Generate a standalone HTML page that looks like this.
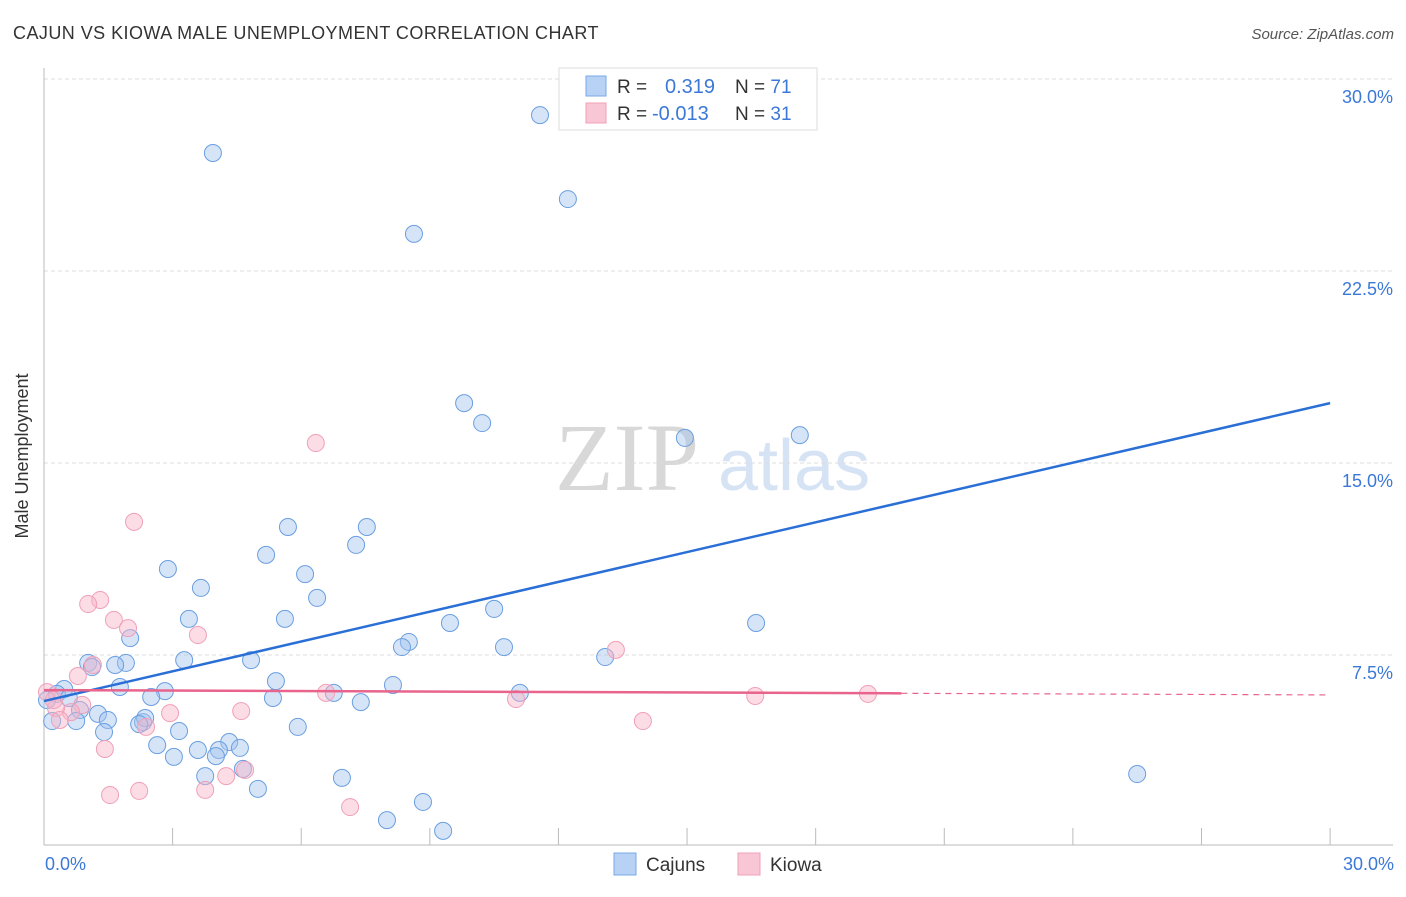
<!DOCTYPE html>
<html><head><meta charset="utf-8"><style>
body{margin:0;background:#fff;width:1406px;height:892px;overflow:hidden;font-family:"Liberation Sans",sans-serif}
</style></head><body>
<svg width="1406" height="892" xmlns="http://www.w3.org/2000/svg">
<text x="13" y="39" font-size="18" letter-spacing="0.45" fill="#333">CAJUN VS KIOWA MALE UNEMPLOYMENT CORRELATION CHART</text>
<text x="1394" y="39" font-size="15" fill="#555" font-style="italic" text-anchor="end">Source: ZipAtlas.com</text>
<text x="555" y="490" font-size="96" fill="#d8d8d8" font-family="Liberation Serif,serif">ZIP</text>
<text x="718" y="490" font-size="72" fill="#d6e3f5">atlas</text>
<g id="grid"></g>
<line x1="44" y1="68" x2="44" y2="845" stroke="#bbb"/>
<line x1="44" y1="845" x2="1393" y2="845" stroke="#bbb"/>
<g id="xticks"></g>
<text x="28" y="456" font-size="18" fill="#333" text-anchor="middle" transform="rotate(-90 28 456)">Male Unemployment</text>
<text x="45" y="870" font-size="18" fill="#3b78d8">0.0%</text>
<text x="1394" y="870" font-size="18" fill="#3b78d8" text-anchor="end">30.0%</text>
<g id="pts"></g>
<g id="lines"></g>
<g>
<rect x="559" y="68" width="258" height="62" fill="#fff" stroke="#ddd"/>
<rect x="586" y="76" width="20" height="20" fill="#b8d2f5" stroke="#7aa8e8"/>
<rect x="586" y="103" width="20" height="20" fill="#f9c6d5" stroke="#f0a0b8"/>
<text x="617" y="93" font-size="19" fill="#333">R =</text>
<text x="665" y="93" font-size="20" fill="#3b78d8">0.319</text>
<text x="735" y="93" font-size="19" fill="#333">N = <tspan fill="#3b78d8">71</tspan></text>
<text x="617" y="120" font-size="19" fill="#333">R =</text>
<text x="652" y="120" font-size="20" fill="#3b78d8">-0.013</text>
<text x="735" y="120" font-size="19" fill="#333">N = <tspan fill="#3b78d8">31</tspan></text>
</g>
<g>
<rect x="614" y="853" width="22" height="22" fill="#b8d2f5" stroke="#7aa8e8"/>
<text x="646" y="871" font-size="19" fill="#333">Cajuns</text>
<rect x="738" y="853" width="22" height="22" fill="#f9c6d5" stroke="#f0a0b8"/>
<text x="770" y="871" font-size="19" fill="#333">Kiowa</text>
</g>
</svg>
<script>
const yTicks=[7.5,15,22.5,30];
const yTickLabels=["7.5%","15.0%","22.5%","30.0%"];
const xTicks=[3,6,9,12,15,18,21,24,27,30];
const cajunX=[11.57,3.94,12.22,8.63,9.80,10.22,14.95,17.63,5.69,7.53,7.28,5.18,2.89,6.09,3.66,6.37,10.50,3.38,5.62,16.61,9.47,2.01,8.51,8.35,10.73,13.09,3.27,4.83,1.03,1.91,1.66,1.12,5.41,8.14,1.77,0.47,2.82,5.34,2.50,6.76,11.10,7.39,0.30,0.58,0.84,1.26,1.49,0.75,0.19,2.31,2.36,2.22,3.15,5.92,1.40,2.64,4.32,4.57,4.08,4.01,3.59,3.03,3.76,6.95,4.64,25.50,4.99,8.84,8.00,9.31,0.07];
const cajunY=[28.59,27.11,25.31,23.95,17.34,16.56,15.98,16.09,12.50,12.50,11.80,11.41,10.86,10.66,10.12,9.73,9.30,8.91,8.91,8.75,8.75,8.16,8.01,7.81,7.81,7.42,7.30,7.30,7.19,7.19,7.11,7.03,6.48,6.33,6.25,6.17,6.09,5.82,5.86,6.02,6.02,5.66,5.98,5.82,5.35,5.20,4.96,4.92,4.92,4.88,5.04,4.80,4.53,4.69,4.49,3.98,4.10,3.87,3.79,3.55,3.79,3.52,2.77,2.70,3.05,2.85,2.27,1.76,1.05,0.63,5.74];
const kiowaX=[6.34,2.10,1.31,1.03,1.63,1.96,3.59,13.34,1.14,0.79,0.89,0.63,0.28,0.07,0.23,0.37,6.58,11.01,16.59,19.22,2.94,4.60,2.38,13.97,1.42,4.69,4.25,3.76,2.22,1.54,7.14];
const kiowaY=[15.78,12.70,9.65,9.49,8.87,8.55,8.28,7.70,7.11,6.68,5.55,5.27,5.43,6.05,5.74,4.96,6.02,5.78,5.90,5.98,5.23,5.31,4.69,4.92,3.83,3.01,2.77,2.23,2.19,2.03,1.56];
const cajunTrend=[5.70,17.34];
const kiowaTrend=[6.13,5.94];
const kiowaSolidEnd=20;
const NS="http://www.w3.org/2000/svg";
const sx=v=>44+v*42.87, sy=v=>847-v*25.6;
function mk(t,a,p){const e=document.createElementNS(NS,t);for(const k in a)e.setAttribute(k,a[k]);document.getElementById(p).appendChild(e);return e;}
yTicks.forEach((t,i)=>{
 const l=mk('line',{x1:44,x2:1393,y1:sy(t),y2:sy(t),stroke:'#ddd','stroke-dasharray':'4,3'},'grid');
 
 
 const tx=mk('text',{x:1393,y:sy(t)+24,'font-size':18,fill:'#3b78d8','text-anchor':'end'},'grid');
 tx.textContent=yTickLabels[i];
 
 
});
xTicks.forEach(t=>{
 const l=mk('line',{x1:sx(t),x2:sx(t),y1:828,y2:845,stroke:'#bbb'},'xticks');
 
 
});
cajunX.forEach((x,i)=>{
 const c=mk('circle',{cx:sx(x),cy:sy(cajunY[i]),r:8.5,fill:'rgba(164,196,240,0.45)',stroke:'#6a9fe0','stroke-width':1},'pts');
 
 
});
kiowaX.forEach((x,i)=>{
 const c=mk('circle',{cx:sx(x),cy:sy(kiowaY[i]),r:8.5,fill:'rgba(248,180,200,0.45)',stroke:'#f0a0b8','stroke-width':1},'pts');
 
 
});
const b=mk('line',{x1:sx(0),y1:sy(cajunTrend[0]),x2:sx(30),y2:sy(cajunTrend[1]),stroke:'#2a6fd6','stroke-width':2.5},'lines');


const kAt=v=>kiowaTrend[0]+(kiowaTrend[1]-kiowaTrend[0])*v/30;
const k1=mk('line',{x1:sx(0),y1:sy(kAt(0)),x2:sx(kiowaSolidEnd),y2:sy(kAt(kiowaSolidEnd)),stroke:'#e8648c','stroke-width':2.5},'lines');


const k2=mk('line',{x1:sx(kiowaSolidEnd),y1:sy(kAt(kiowaSolidEnd)),x2:sx(30),y2:sy(kAt(30)),stroke:'#e8648c','stroke-width':1.2,'stroke-dasharray':'6,5'},'lines');


</script>
</body></html>
